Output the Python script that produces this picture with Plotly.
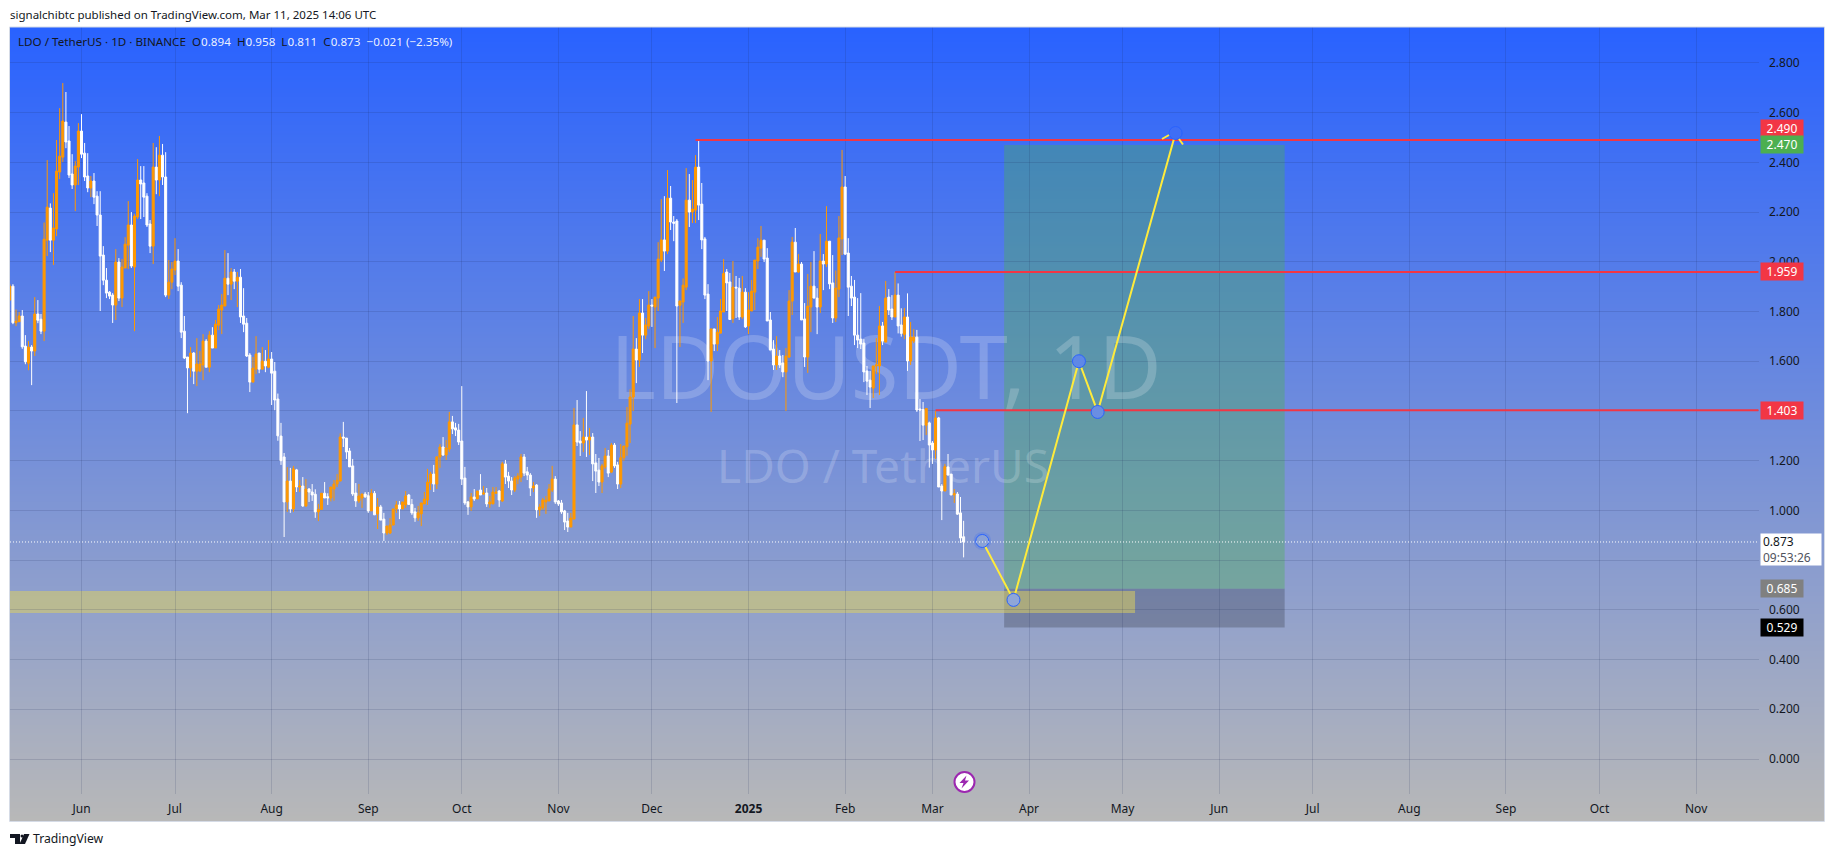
import base64, struct, zlib
import pandas as pd
import plotly.graph_objects as go

# ---------- data ----------
first_day = "2024-05-09"
opens = [
 1.846,1.902,1.755,1.759,1.782,1.661,1.592,1.657,1.641,1.790,
 1.769,1.721,2.087,2.216,2.087,2.132,2.361,2.421,2.562,2.486,
 2.353,2.309,2.381,2.526,2.437,2.345,2.297,2.325,2.264,2.188,
 2.027,1.926,1.878,1.866,1.826,1.999,1.854,1.975,2.067,2.148,
 1.979,2.180,2.329,2.317,2.264,2.152,2.063,2.381,2.329,2.429,
 2.341,1.866,1.918,1.967,2.003,1.906,1.721,1.617,1.573,1.633,
 1.560,1.560,1.585,1.681,1.576,1.705,1.653,1.745,1.806,1.822,
 1.934,1.910,1.959,1.922,1.938,1.782,1.753,1.625,1.516,1.568,
 1.633,1.568,1.600,1.576,1.609,1.560,1.448,1.299,1.215,1.034,
 1.118,1.006,1.163,1.094,1.098,1.018,1.086,1.074,1.065,0.994,
 1.004,1.069,1.055,1.050,1.086,1.106,1.118,1.295,1.291,1.239,
 1.179,1.070,1.038,1.050,1.066,1.059,0.998,1.069,0.986,1.014,
 0.965,0.909,0.909,0.941,1.006,1.022,1.006,1.022,1.062,1.024,
 0.994,0.970,0.986,1.026,1.042,1.110,1.146,1.106,1.215,1.255,
 1.223,1.247,1.356,1.332,1.323,1.279,1.130,1.034,1.014,1.054,
 1.046,1.082,1.066,1.070,1.026,1.026,1.069,1.078,1.038,1.187,
 1.138,1.118,1.082,1.126,1.134,1.215,1.155,1.142,1.090,1.102,
 1.002,1.010,1.034,1.038,1.082,1.126,1.038,1.030,0.998,0.957,
 0.933,0.965,1.344,1.279,1.271,1.295,1.283,1.295,1.191,1.162,
 1.114,1.175,1.219,1.154,1.263,1.183,1.106,1.212,1.256,1.347,
 1.456,1.649,1.605,1.794,1.705,1.742,1.826,1.818,1.854,2.007,
 2.088,2.043,2.256,2.160,2.164,1.825,1.838,1.898,2.248,2.200,
 2.208,2.381,2.232,2.092,1.870,1.601,1.730,1.669,1.713,1.798,
 1.959,1.919,1.771,1.898,1.894,1.778,1.878,1.742,1.802,1.878,
 2.003,2.055,2.087,2.015,1.766,1.649,1.585,1.621,1.593,1.557,
 1.617,1.842,2.079,1.959,1.991,1.770,1.617,1.818,1.902,1.854,
 1.818,2.003,1.991,2.083,1.915,1.774,1.890,2.092,2.301,2.035,
 1.902,1.858,1.705,1.689,1.673,1.561,1.524,1.492,1.581,1.581,
 1.742,1.677,1.858,1.810,1.778,1.866,1.746,1.708,1.778,1.601,
 1.681,1.697,1.408,1.406,1.343,1.352,1.271,1.243,1.372,1.098,
 1.078,1.175,1.146,1.062,1.066,0.990,0.894]
highs = [
 1.91,1.91,1.808,1.798,1.806,1.705,1.681,1.665,1.858,1.846,
 1.790,2.158,2.409,2.235,2.276,2.490,2.618,2.719,2.683,2.546,
 2.433,2.405,2.558,2.594,2.478,2.437,2.345,2.357,2.284,2.284,
 2.063,1.975,1.882,1.874,2.051,2.015,2.011,2.099,2.244,2.200,
 2.192,2.413,2.385,2.385,2.276,2.168,2.478,2.461,2.506,2.474,
 2.441,2.007,1.999,2.095,2.051,1.918,1.782,1.617,1.657,1.637,
 1.693,1.641,1.709,1.689,1.721,1.737,1.766,1.826,1.870,2.047,
 2.035,1.975,1.971,1.959,1.971,1.894,1.774,1.633,1.617,1.701,
 1.633,1.657,1.645,1.685,1.637,1.597,1.47,1.352,1.231,1.174,
 1.171,1.179,1.167,1.122,1.134,1.126,1.090,1.106,1.085,1.026,
 1.069,1.114,1.069,1.094,1.122,1.146,1.310,1.356,1.291,1.251,
 1.207,1.110,1.106,1.066,1.074,1.074,1.085,1.078,1.050,1.022,
 0.990,0.937,0.969,1.006,1.038,1.038,1.034,1.078,1.066,1.046,
 1.010,1.018,1.030,1.074,1.167,1.155,1.183,1.219,1.267,1.295,
 1.283,1.396,1.380,1.352,1.348,1.500,1.175,1.038,1.070,1.086,
 1.078,1.146,1.098,1.090,1.058,1.094,1.094,1.082,1.195,1.203,
 1.155,1.134,1.138,1.150,1.227,1.227,1.175,1.150,1.114,1.106,
 1.026,1.050,1.058,1.106,1.179,1.138,1.042,1.042,1.002,0.990,
 0.990,1.412,1.444,1.319,1.372,1.480,1.332,1.311,1.227,1.211,
 1.187,1.251,1.243,1.271,1.271,1.195,1.267,1.259,1.416,1.487,
 1.782,1.693,1.850,1.850,1.774,1.882,1.850,1.858,2.079,2.252,
 2.264,2.369,2.305,2.184,2.172,1.845,1.933,2.377,2.353,2.329,
 2.429,2.490,2.317,2.100,1.910,1.730,1.730,1.778,1.850,2.011,
 1.971,1.955,2.003,1.943,1.935,1.943,1.894,1.878,1.927,2.007,
 2.095,2.144,2.087,2.055,1.798,1.685,1.701,1.645,1.625,1.653,
 1.886,2.100,2.136,2.031,1.999,1.834,1.951,1.999,2.043,1.894,
 2.112,2.031,2.224,2.083,2.027,1.965,2.184,2.450,2.345,2.095,
 1.943,1.927,1.854,1.874,1.689,1.581,1.561,1.581,1.693,1.822,
 1.758,1.923,1.890,1.866,1.959,1.913,1.813,1.814,1.873,1.758,
 1.729,1.726,1.448,1.436,1.410,1.357,1.279,1.400,1.376,1.106,
 1.187,1.227,1.146,1.086,1.074,1.054,0.958]
lows = [
 1.846,1.749,1.741,1.759,1.650,1.588,1.564,1.504,1.621,1.753,
 1.709,1.681,2.023,2.039,1.987,2.103,2.333,2.401,2.457,2.337,
 2.293,2.204,2.309,2.417,2.325,2.280,2.260,2.232,2.144,1.802,
 1.906,1.854,1.850,1.754,1.766,1.842,1.818,1.975,1.971,1.975,
 1.721,2.172,2.172,2.180,2.140,2.035,1.991,2.272,2.264,2.309,
 1.858,1.850,1.890,1.947,1.882,1.693,1.609,1.391,1.536,1.508,
 1.500,1.560,1.524,1.576,1.556,1.653,1.653,1.725,1.709,1.822,
 1.866,1.846,1.890,1.818,1.754,1.717,1.617,1.476,1.516,1.548,
 1.552,1.568,1.556,1.572,1.424,1.403,1.28,1.183,0.893,0.994,
 0.990,0.994,1.074,1.074,1.014,1.014,1.034,1.038,0.970,0.957,
 1.002,1.050,1.022,1.036,1.039,1.094,1.118,1.255,1.207,1.175,
 1.058,1.014,1.030,1.010,1.050,0.990,0.998,0.982,0.925,0.961,
 0.877,0.901,0.905,0.941,0.990,0.965,1.006,1.010,1.022,0.982,
 0.954,0.958,0.937,1.026,1.022,1.082,1.074,1.086,1.171,1.219,
 1.203,1.235,1.307,1.299,1.263,1.102,1.022,0.982,0.998,1.038,
 1.046,1.062,1.062,1.014,1.010,1.026,1.066,1.014,1.034,1.106,
 1.090,1.062,1.074,1.106,1.114,1.138,1.122,1.058,1.074,0.970,
 0.978,1.002,0.986,1.038,1.074,1.026,1.018,0.986,0.921,0.913,
 0.933,0.965,1.259,1.219,1.235,1.215,1.223,1.118,1.070,1.098,
 1.070,1.167,1.134,1.150,1.171,1.086,1.090,1.200,1.22,1.271,
 1.400,1.512,1.577,1.633,1.689,1.730,1.738,1.653,1.802,1.999,
 1.963,2.031,2.128,2.083,1.432,1.657,1.754,1.886,2.140,2.156,
 2.156,2.168,2.051,1.850,1.524,1.396,1.641,1.641,1.713,1.798,
 1.802,1.768,1.754,1.774,1.766,1.770,1.734,1.709,1.802,1.806,
 1.971,2.020,1.999,1.762,1.645,1.565,1.565,1.573,1.536,1.400,
 1.613,1.786,1.959,1.955,1.766,1.577,1.553,1.717,1.854,1.709,
 1.794,1.886,1.979,1.890,1.754,1.758,1.858,2.027,2.027,1.782,
 1.822,1.665,1.653,1.649,1.516,1.464,1.412,1.452,1.549,1.464,
 1.665,1.677,1.786,1.766,1.778,1.712,1.699,1.689,1.561,1.585,
 1.673,1.396,1.279,1.283,1.303,1.172,1.187,1.207,1.094,0.961,
 1.078,1.142,1.062,1.030,0.982,0.869,0.811]
closes = [
 1.902,1.755,1.761,1.782,1.658,1.598,1.657,1.641,1.790,1.765,
 1.721,2.091,2.220,2.087,2.136,2.365,2.425,2.566,2.482,2.349,
 2.309,2.385,2.526,2.433,2.341,2.297,2.325,2.260,2.188,2.023,
 1.926,1.874,1.862,1.826,1.999,1.854,1.979,2.071,2.148,1.983,
 2.184,2.329,2.313,2.260,2.148,2.063,2.381,2.329,2.429,2.341,
 1.866,1.918,1.971,2.003,1.902,1.717,1.613,1.573,1.633,1.560,
 1.589,1.589,1.681,1.576,1.705,1.653,1.749,1.810,1.826,1.934,
 1.910,1.959,1.922,1.938,1.778,1.749,1.621,1.516,1.572,1.629,
 1.568,1.600,1.581,1.609,1.552,1.444,1.30,1.20,1.034,1.118,
 1.006,1.167,1.094,1.098,1.018,1.086,1.074,1.062,0.994,1.004,
 1.069,1.050,1.050,1.094,1.106,1.121,1.295,1.291,1.235,1.175,
 1.066,1.038,1.058,1.066,1.055,0.998,1.069,0.982,1.014,0.961,
 0.909,0.937,0.941,1.006,1.022,1.006,1.034,1.058,1.024,0.990,
 0.970,0.990,1.030,1.046,1.114,1.146,1.106,1.215,1.255,1.223,
 1.251,1.356,1.328,1.323,1.275,1.126,1.030,1.014,1.054,1.046,
 1.078,1.062,1.070,1.026,1.034,1.074,1.074,1.042,1.187,1.134,
 1.118,1.082,1.130,1.138,1.215,1.150,1.142,1.090,1.098,1.002,
 1.014,1.042,1.042,1.086,1.126,1.034,1.026,0.994,0.953,0.933,
 0.969,1.344,1.275,1.271,1.295,1.283,1.295,1.187,1.158,1.114,
 1.179,1.219,1.150,1.263,1.179,1.106,1.212,1.259,1.351,1.456,
 1.649,1.605,1.794,1.705,1.746,1.826,1.822,1.858,2.011,2.088,
 2.043,2.256,2.160,2.155,1.822,1.842,1.906,2.248,2.200,2.212,
 2.381,2.228,2.088,1.866,1.601,1.730,1.669,1.717,1.802,1.953,
 1.915,1.768,1.898,1.895,1.778,1.878,1.738,1.806,1.882,2.007,
 2.059,2.087,2.011,1.762,1.645,1.585,1.621,1.585,1.557,1.621,
 1.842,2.079,1.959,1.991,1.766,1.617,1.822,1.902,1.854,1.818,
 2.003,1.991,2.083,1.911,1.774,1.894,2.096,2.301,2.031,1.898,
 1.854,1.705,1.685,1.669,1.557,1.520,1.496,1.581,1.585,1.742,
 1.681,1.854,1.806,1.778,1.866,1.742,1.712,1.778,1.601,1.697,
 1.697,1.404,1.404,1.343,1.410,1.263,1.243,1.372,1.094,1.078,
 1.176,1.142,1.062,1.067,0.985,0.889,0.873]

month_starts = ["2024-06-01","2024-07-01","2024-08-01","2024-09-01","2024-10-01","2024-11-01",
                "2024-12-01","2025-01-01","2025-02-01","2025-03-01","2025-04-01","2025-05-01",
                "2025-06-01","2025-07-01","2025-08-01","2025-09-01","2025-10-01","2025-11-01"]
month_labels = ["Jun","Jul","Aug","Sep","Oct","Nov","Dec","<b>2025</b>","Feb","Mar","Apr","May",
                "Jun","Jul","Aug","Sep","Oct","Nov"]
price_ticks = [0.0,0.2,0.4,0.6,0.8,1.0,1.2,1.4,1.6,1.8,2.0,2.2,2.4,2.6,2.8]
price_labels = ["0.000","0.200","0.400","0.600","","1.000","1.200","","1.600","1.800","2.000","2.200","2.400","2.600","2.800"]

level_prices = [2.490, 1.959, 1.403]
level_starts = ["2024-12-15","2025-02-17","2025-03-02"]
level_end = "2025-11-21"

path_dates = ["2025-03-17","2025-03-27","2025-04-17","2025-04-23","2025-05-18"]
path_prices = [0.877, 0.640, 1.600, 1.396, 2.518]
path_marker_colors = ["#8AA2D6","#8FA6D8","#5F88E6","#6A8EE2","#3F6EF5"]

target_price, entry_price, stop_price = 2.470, 0.685, 0.529
box_start, box_end = "2025-03-24", "2025-06-22"
zone_low, zone_high, zone_start, zone_end = 0.587, 0.676, "2024-05-01", "2025-05-05"
last_price = 0.873

# ---------- frame in page pixels ----------
W, H = 1835, 857
L, R, T, B = 10, 1759, 27, 794
PX_PER_DAY = 3.117
JUN1 = pd.Timestamp("2024-06-01")
JUN1_PX = 81.5

def px_date(px):
    return JUN1 + pd.Timedelta(days=(px - JUN1_PX) / PX_PER_DAY)
def pf_x(px):
    return (px - L) / (R - L)
def pf_y(py):
    return (B - py) / (B - T)

x_range = [px_date(L), px_date(R)]
y_range = [(759 - B) / 248.6, (759 - T) / 248.6]

# vertical background gradient as a small PNG
def gradient_png(top, bottom, n=400):
    rows = b""
    for i in range(n):
        f = i / (n - 1)
        rows += b"\x00" + bytes(int(round(a + (b - a) * f)) for a, b in zip(top, bottom))
    def chunk(t, d):
        return struct.pack(">I", len(d)) + t + d + struct.pack(">I", zlib.crc32(t + d) & 0xffffffff)
    png = b"\x89PNG\r\n\x1a\n" + chunk(b"IHDR", struct.pack(">IIBBBBB", 1, n, 8, 2, 0, 0, 0)) \
        + chunk(b"IDAT", zlib.compress(rows)) + chunk(b"IEND", b"")
    return "data:image/png;base64," + base64.b64encode(png).decode()

FONT = "Noto Sans"
DARK = "#131722"
days = pd.date_range(first_day, periods=len(opens), freq="D")

fig = go.Figure()

# watermark in the base subplot, under the candles of the overlay subplot
fig.add_trace(go.Scatter(x=[px_date(886), px_date(883)], y=[1.535, 1.155], mode="text",
    text=["LDOUSDT, 1D", "LDO / TetherUS"], textposition="middle center",
    textfont=dict(family=FONT, size=[87, 46], color="rgba(255,255,255,0.2)"),
    hoverinfo="skip", showlegend=False, cliponaxis=False))

fig.add_trace(go.Candlestick(x=days, open=opens, high=highs, low=lows, close=closes,
    xaxis="x2", yaxis="y2",
    increasing=dict(line=dict(color="#FF9800", width=1), fillcolor="#FF9800"),
    decreasing=dict(line=dict(color="#FFFFFF", width=1), fillcolor="#FFFFFF"),
    hoverinfo="skip", showlegend=False))

for p, s in zip(level_prices, level_starts):
    fig.add_trace(go.Scatter(x=[s, level_end], y=[p, p], xaxis="x2", yaxis="y2", mode="lines",
        line=dict(color="#F23645", width=2), hoverinfo="skip", showlegend=False))

fig.add_trace(go.Scatter(x=path_dates[:1], y=path_prices[:1], xaxis="x2", yaxis="y2", mode="markers",
    marker=dict(size=18, color="rgba(41,98,255,0.2)"), hoverinfo="skip", showlegend=False))
fig.add_trace(go.Scatter(x=path_dates, y=path_prices, xaxis="x2", yaxis="y2", mode="lines+markers",
    line=dict(color="#FFEB3B", width=2),
    marker=dict(size=13, color=path_marker_colors, line=dict(color="#2962FF", width=1)),
    hoverinfo="skip", showlegend=False))

shapes = [
    dict(type="rect", xref="x", yref="y", x0=box_start, x1=box_end, y0=entry_price, y1=target_price,
         fillcolor="rgba(76,175,80,0.37)", line_width=0, layer="below"),
    dict(type="rect", xref="x", yref="y", x0=box_start, x1=box_end, y0=stop_price, y1=entry_price,
         fillcolor="rgba(0,0,0,0.2)", line_width=0, layer="below"),
    dict(type="rect", xref="x", yref="y", x0=x_range[0], x1=zone_end, y0=zone_low, y1=zone_high,
         fillcolor="rgba(225,212,90,0.5)", line_width=0, layer="below"),
    dict(type="line", xref="paper", yref="y", x0=0, x1=1, y0=last_price, y1=last_price,
         line=dict(color="#FFFFFF", width=1, dash="1px,2px"), layer="above"),
    # frame round the whole picture
    dict(type="rect", xref="paper", yref="paper", x0=pf_x(9.5), x1=pf_x(1824.5), y0=pf_y(821.5), y1=pf_y(27),
         line=dict(color="#D5DBE6", width=1), layer="above"),
]
# arrow head at the end of the path
for a, b, c, d in [(1162, 139, 1169, 135), (1179, 139, 1183, 144.5)]:
    shapes.append(dict(type="line", xref="paper", yref="paper", x0=pf_x(a), y0=pf_y(b), x1=pf_x(c), y1=pf_y(d),
                       line=dict(color="#FFEB3B", width=2), layer="above"))

def path_shape(points, color):
    d = "M" + " L".join(f"{pf_x(x):.5f},{pf_y(y):.5f}" for x, y in points) + " Z"
    return dict(type="path", xref="paper", yref="paper", path=d, fillcolor=color, line_width=0, layer="above")

# TradingView logo
shapes.append(path_shape([(10, 834), (20, 834), (20, 844), (15, 844), (15, 838), (10, 838)], DARK))
shapes.append(path_shape([(24, 834), (29.5, 834), (25, 844), (19.5, 844)], DARK))
shapes.append(dict(type="circle", xref="paper", yref="paper", x0=pf_x(20.5), x1=pf_x(23.5), y0=pf_y(837.5), y1=pf_y(834.5),
                   fillcolor=DARK, line_width=0, layer="above"))
# lightning badge
shapes.append(dict(type="circle", xref="paper", yref="paper", x0=pf_x(954.5), x1=pf_x(974.5), y0=pf_y(792), y1=pf_y(772),
                   fillcolor="#FFFFFF", line=dict(color="#9C27B0", width=2), layer="above"))
shapes.append(path_shape([(966.5, 775.5), (959.5, 783), (963.5, 783), (961.5, 788.5), (969, 780.5), (965, 780.5)], "#9C27B0"))

def badge(y, text, bg, color="#FFFFFF", yshift=0):
    return dict(xref="paper", yref="y", x=pf_x(1760), y=y, text=text, showarrow=False, xanchor="left", yanchor="middle",
                yshift=yshift, bgcolor=bg, width=40, height=15, align="center", borderpad=1,
                font=dict(family=FONT, size=12, color=color))

V = "rgba(255,255,255,0.92)"
def v(t):
    return f"<span style='color:{V}'>{t}</span>"
legend_text = ("LDO / TetherUS · 1D · BINANCE  O" + v("0.894") + "  H" + v("0.958") + "  L" + v("0.811")
               + "  C" + v("0.873") + "  " + v("−0.021 (−2.35%)"))

annotations = [
    dict(xref="paper", yref="paper", x=pf_x(8), y=pf_y(15), xanchor="left", yanchor="middle", showarrow=False,
         text="signalchibtc published on TradingView.com, Mar 11, 2025 14:06 UTC",
         font=dict(family=FONT, size=11.5, color=DARK)),
    dict(xref="paper", yref="paper", x=pf_x(16), y=pf_y(41.5), xanchor="left", yanchor="middle", showarrow=False,
         text=legend_text, font=dict(family=FONT, size=11.65, color=DARK)),
    dict(xref="paper", yref="paper", x=pf_x(31), y=pf_y(839), xanchor="left", yanchor="middle", showarrow=False,
         text="TradingView", font=dict(family=FONT, size=12.2, color=DARK)),
    badge(level_prices[0], "2.490", "#F23645", yshift=11),
    badge(target_price, "2.470", "#4CAF50"),
    badge(level_prices[1], "1.959", "#F23645"),
    badge(level_prices[2], "1.403", "#F23645"),
    badge(entry_price, "0.685", "#808080"),
    badge(stop_price, "0.529", "#000000"),
    dict(xref="paper", yref="y", x=pf_x(1760), y=last_price, yshift=-7.5, xanchor="left", yanchor="middle",
         showarrow=False, text="0.873<br><span style='color:#50535E'>09:53:26</span>", align="left",
         bgcolor="#FFFFFF", width=56, height=27, borderpad=2, font=dict(family=FONT, size=12, color=DARK)),
]

fig.update_layout(
    width=W, height=H, autosize=False,
    margin=dict(l=L, r=W - R, t=T, b=H - B, pad=0, autoexpand=False),
    paper_bgcolor="#FFFFFF", plot_bgcolor="rgba(0,0,0,0)",
    showlegend=False, hovermode=False, dragmode=False,
    boxgap=0.35, boxgroupgap=0,
    images=[dict(source=gradient_png((41, 98, 255), (184, 184, 184)), xref="paper", yref="paper",
                 x=pf_x(10), y=pf_y(27), sizex=pf_x(1824) - pf_x(10), sizey=pf_y(27) - pf_y(821),
                 sizing="stretch", xanchor="left", yanchor="top", layer="below")],
    shapes=shapes, annotations=annotations,
    xaxis=dict(type="date", range=x_range, tickmode="array", tickvals=month_starts, ticktext=month_labels,
               showgrid=True, gridcolor="rgba(30,40,90,0.15)", gridwidth=1, zeroline=False, showline=False,
               ticks="", ticklabelstandoff=6, tickfont=dict(family=FONT, size=12, color=DARK),
               rangeslider=dict(visible=False), fixedrange=True),
    yaxis=dict(range=y_range, side="right", tickmode="array", tickvals=price_ticks, ticktext=price_labels,
               showgrid=True, gridcolor="rgba(30,40,90,0.15)", gridwidth=1, zeroline=False, showline=False,
               ticks="", ticklabelstandoff=9, tickfont=dict(family=FONT, size=12, color=DARK), fixedrange=True),
    xaxis2=dict(type="date", range=x_range, overlaying="x", visible=False, rangeslider=dict(visible=False), fixedrange=True),
    yaxis2=dict(range=y_range, overlaying="y", side="right", visible=False, fixedrange=True),
)

fig.write_html("out.html", config=dict(displayModeBar=False),
               post_script="document.body.style.margin='0';document.body.style.overflow='hidden';")
